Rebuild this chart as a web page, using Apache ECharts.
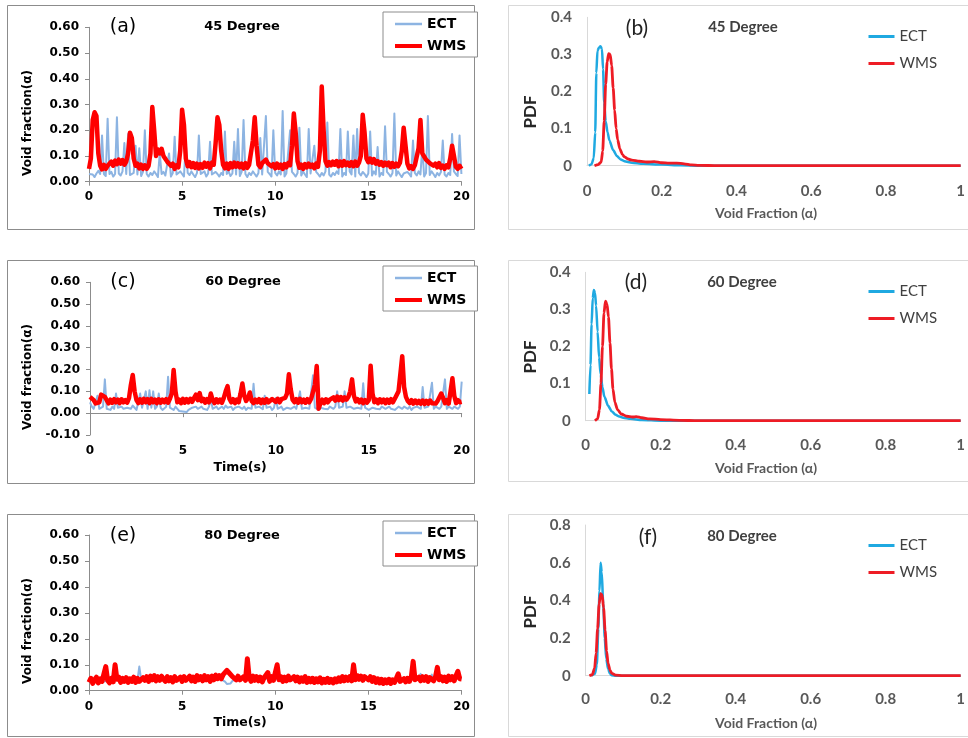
<!DOCTYPE html>
<html><head><meta charset="utf-8">
<script src="https://cdn.jsdelivr.net/npm/echarts@6/dist/echarts.min.js"></script>
<style>html,body{margin:0;padding:0;background:#fff}#c{width:968px;height:738px}</style>
</head><body><div id="c"></div>
<script>
// ---------- DATA ----------
const timeStep = 0.1; // s, sampling of the time-series
const timeTicks = [0, 5, 10, 15, 20];
const pdfTicks = [0, 0.2, 0.4, 0.6, 0.8, 1];

// (a) 45 degree
const ectA = [
0.03,0.035,0.028,0.018,0.032,0.042,0.03,0.18,0.03,0.022,
0.245,0.03,0.038,0.02,0.03,0.25,0.032,0.024,0.04,0.15,
0.03,0.185,0.026,0.02,0.034,0.14,0.028,0.13,0.022,0.038,
0.2,0.03,0.02,0.034,0.026,0.04,0.03,0.018,0.11,0.03,
0.038,0.024,0.03,0.11,0.02,0.034,0.175,0.028,0.022,0.04,
0.03,0.02,0.15,0.034,0.026,0.04,0.028,0.018,0.034,0.18,
0.03,0.024,0.04,0.02,0.032,0.155,0.028,0.022,0.038,0.03,
0.02,0.034,0.026,0.195,0.03,0.04,0.022,0.032,0.155,0.028,
0.205,0.022,0.038,0.24,0.03,0.018,0.034,0.026,0.04,0.03,
0.02,0.034,0.17,0.028,0.024,0.255,0.038,0.03,0.02,0.2,
0.034,0.024,0.04,0.028,0.275,0.02,0.032,0.026,0.2,0.038,
0.03,0.02,0.034,0.21,0.024,0.04,0.028,0.018,0.205,0.032,
0.026,0.14,0.038,0.03,0.02,0.034,0.024,0.04,0.23,0.028,
0.02,0.034,0.026,0.04,0.03,0.205,0.02,0.034,0.026,0.195,
0.04,0.028,0.18,0.02,0.205,0.034,0.024,0.038,0.03,0.018,
0.032,0.195,0.024,0.04,0.028,0.135,0.02,0.034,0.026,0.215,
0.038,0.03,0.02,0.034,0.265,0.024,0.04,0.028,0.018,0.032,
0.026,0.038,0.03,0.02,0.16,0.034,0.024,0.04,0.028,0.135,
0.02,0.034,0.255,0.026,0.04,0.03,0.018,0.034,0.024,0.038,
0.16,0.028,0.02,0.034,0.026,0.185,0.04,0.03,0.022,0.18,
0.03];
const wmsA = [
0.05,0.09,0.24,0.27,0.255,0.11,0.062,0.048,0.066,0.05,
0.062,0.056,0.078,0.062,0.082,0.068,0.086,0.07,0.084,0.066,
0.078,0.11,0.19,0.17,0.09,0.062,0.07,0.052,0.066,0.05,
0.064,0.05,0.062,0.11,0.29,0.2,0.1,0.125,0.11,0.128,
0.1,0.095,0.078,0.082,0.062,0.07,0.05,0.064,0.056,0.12,
0.28,0.22,0.09,0.06,0.076,0.056,0.072,0.054,0.07,0.052,
0.068,0.054,0.074,0.058,0.072,0.052,0.074,0.066,0.15,0.25,
0.22,0.12,0.066,0.052,0.07,0.05,0.072,0.056,0.074,0.058,
0.072,0.056,0.07,0.052,0.072,0.054,0.066,0.062,0.16,0.25,
0.14,0.066,0.056,0.072,0.066,0.086,0.072,0.078,0.06,0.068,
0.052,0.07,0.054,0.066,0.05,0.068,0.056,0.072,0.064,0.14,
0.265,0.19,0.08,0.054,0.066,0.05,0.068,0.056,0.07,0.058,
0.066,0.052,0.07,0.058,0.12,0.37,0.2,0.08,0.062,0.076,
0.064,0.078,0.066,0.08,0.06,0.078,0.062,0.08,0.064,0.074,
0.062,0.076,0.06,0.078,0.062,0.074,0.1,0.26,0.19,0.09,
0.076,0.09,0.074,0.088,0.07,0.08,0.066,0.076,0.062,0.074,
0.064,0.074,0.056,0.072,0.058,0.07,0.06,0.074,0.12,0.21,
0.14,0.07,0.052,0.06,0.05,0.064,0.058,0.13,0.24,0.11,
0.098,0.086,0.09,0.072,0.076,0.062,0.07,0.056,0.072,0.054,
0.062,0.05,0.064,0.056,0.09,0.14,0.1,0.058,0.05,0.062,
0.05];

// (c) 60 degree
const ectC = [
0.05,0.03,0.02,0.025,0.08,0.02,0.015,0.03,0.155,0.02,
0.025,0.015,0.03,0.02,0.09,0.025,0.018,0.03,0.02,0.015,
0.025,0.03,0.02,0.035,0.025,0.015,0.02,0.09,0.025,0.03,
0.1,0.02,0.105,0.025,0.1,0.02,0.03,0.09,0.025,0.015,
0.02,0.03,0.167,0.025,0.02,0.015,0.03,0.02,0.01,0.005,
0.008,0.012,0.005,0.015,0.02,0.025,0.018,0.03,0.02,0.025,
0.03,0.02,0.025,0.015,0.03,0.065,0.02,0.025,0.03,0.018,
0.025,0.03,0.02,0.035,0.025,0.02,0.03,0.015,0.025,0.02,
0.03,0.025,0.02,0.03,0.015,0.025,0.03,0.02,0.135,0.025,
0.02,0.03,0.025,0.018,0.08,0.025,0.02,0.03,0.015,0.025,
0.07,0.02,0.025,0.03,0.015,0.02,0.025,0.03,0.02,0.025,
0.03,0.02,0.025,0.1,0.02,0.015,0.025,0.03,0.02,0.025,
0.174,0.025,0.02,0.015,0.025,0.03,0.02,0.025,0.018,0.03,
0.025,0.02,0.03,0.1,0.025,0.02,0.03,0.1,0.025,0.02,
0.03,0.025,0.02,0.015,0.025,0.03,0.02,0.137,0.025,0.02,
0.015,0.02,0.025,0.03,0.02,0.025,0.018,0.03,0.025,0.02,
0.025,0.03,0.02,0.025,0.015,0.02,0.03,0.025,0.02,0.03,
0.025,0.02,0.03,0.015,0.025,0.02,0.03,0.025,0.02,0.12,
0.025,0.02,0.03,0.025,0.14,0.02,0.03,0.025,0.02,0.03,
0.025,0.155,0.02,0.03,0.025,0.02,0.03,0.025,0.02,0.03,
0.145];
const wmsC = [
0.075,0.07,0.06,0.045,0.042,0.05,0.085,0.09,0.075,0.06,
0.045,0.062,0.048,0.064,0.05,0.062,0.046,0.064,0.05,0.06,
0.048,0.07,0.13,0.175,0.1,0.06,0.046,0.064,0.048,0.066,
0.05,0.064,0.046,0.066,0.05,0.062,0.046,0.064,0.048,0.062,
0.05,0.064,0.048,0.066,0.09,0.198,0.1,0.05,0.062,0.046,
0.066,0.048,0.064,0.05,0.066,0.052,0.07,0.085,0.06,0.092,
0.055,0.066,0.048,0.064,0.05,0.09,0.06,0.046,0.064,0.05,
0.062,0.048,0.07,0.1,0.124,0.066,0.05,0.064,0.046,0.062,
0.05,0.09,0.136,0.08,0.056,0.07,0.095,0.056,0.046,0.062,
0.05,0.064,0.046,0.062,0.048,0.064,0.05,0.046,0.065,0.07,
0.052,0.066,0.05,0.064,0.056,0.07,0.09,0.178,0.11,0.062,
0.05,0.064,0.048,0.066,0.05,0.062,0.048,0.064,0.05,0.066,
0.064,0.13,0.216,0.02,0.045,0.062,0.046,0.064,0.05,0.062,
0.056,0.072,0.058,0.076,0.06,0.074,0.058,0.072,0.062,0.074,
0.1,0.155,0.08,0.054,0.064,0.05,0.062,0.046,0.06,0.048,
0.06,0.218,0.09,0.05,0.062,0.046,0.064,0.05,0.062,0.046,
0.062,0.048,0.064,0.05,0.066,0.07,0.1,0.18,0.261,0.12,
0.075,0.056,0.046,0.06,0.044,0.058,0.045,0.056,0.044,0.058,
0.042,0.056,0.044,0.058,0.046,0.054,0.044,0.056,0.05,0.09,
0.07,0.046,0.06,0.044,0.1,0.16,0.08,0.046,0.06,0.05,
0.052];

// (e) 80 degree
const ectE = [
0.04,0.035,0.045,0.038,0.042,0.036,0.044,0.04,0.035,0.042,
0.038,0.044,0.036,0.042,0.04,0.035,0.045,0.038,0.042,0.036,
0.044,0.04,0.036,0.042,0.038,0.045,0.04,0.093,0.042,0.038,
0.045,0.04,0.046,0.042,0.048,0.044,0.05,0.045,0.042,0.048,
0.044,0.04,0.046,0.042,0.048,0.04,0.045,0.042,0.038,0.046,
0.042,0.046,0.04,0.044,0.048,0.042,0.046,0.04,0.048,0.044,
0.046,0.042,0.048,0.044,0.05,0.042,0.046,0.044,0.05,0.046,
0.048,0.044,0.04,0.035,0.026,0.022,0.028,0.038,0.042,0.045,
0.046,0.042,0.04,0.045,0.042,0.05,0.044,0.04,0.046,0.042,
0.045,0.04,0.046,0.042,0.044,0.048,0.042,0.04,0.046,0.042,
0.04,0.044,0.042,0.046,0.04,0.044,0.042,0.046,0.044,0.04,
0.044,0.04,0.046,0.042,0.044,0.04,0.044,0.038,0.042,0.04,
0.042,0.038,0.04,0.042,0.044,0.038,0.042,0.04,0.044,0.038,
0.042,0.038,0.044,0.04,0.045,0.042,0.046,0.044,0.046,0.044,
0.046,0.044,0.048,0.045,0.05,0.046,0.05,0.045,0.048,0.05,
0.046,0.048,0.044,0.045,0.04,0.042,0.038,0.04,0.036,0.04,
0.038,0.04,0.036,0.04,0.038,0.042,0.05,0.042,0.04,0.042,
0.04,0.044,0.042,0.046,0.05,0.045,0.042,0.046,0.065,0.05,
0.046,0.05,0.044,0.048,0.062,0.046,0.05,0.055,0.048,0.05,
0.046,0.05,0.044,0.05,0.046,0.05,0.046,0.052,0.06,0.05,
0.046];
const wmsE = [
0.032,0.048,0.028,0.042,0.052,0.03,0.046,0.036,0.03,0.093,
0.04,0.03,0.048,0.034,0.1,0.044,0.052,0.032,0.048,0.036,
0.05,0.032,0.046,0.036,0.052,0.032,0.048,0.036,0.032,0.05,
0.04,0.054,0.036,0.056,0.042,0.058,0.038,0.054,0.04,0.056,
0.044,0.036,0.054,0.038,0.05,0.034,0.054,0.04,0.034,0.052,
0.036,0.054,0.04,0.034,0.056,0.038,0.052,0.036,0.058,0.042,
0.054,0.038,0.058,0.042,0.054,0.036,0.056,0.042,0.06,0.046,
0.058,0.046,0.062,0.066,0.078,0.07,0.064,0.054,0.052,0.042,
0.056,0.042,0.036,0.054,0.04,0.123,0.05,0.036,0.056,0.04,
0.054,0.038,0.052,0.034,0.05,0.056,0.07,0.036,0.054,0.04,
0.034,0.1,0.042,0.054,0.036,0.052,0.038,0.056,0.042,0.036,
0.054,0.038,0.052,0.034,0.05,0.036,0.054,0.032,0.048,0.034,
0.048,0.032,0.046,0.034,0.05,0.03,0.044,0.032,0.048,0.032,
0.044,0.03,0.046,0.034,0.05,0.036,0.054,0.038,0.052,0.04,
0.054,0.038,0.1,0.042,0.058,0.044,0.056,0.04,0.054,0.058,
0.042,0.054,0.036,0.05,0.032,0.046,0.03,0.044,0.028,0.042,
0.03,0.044,0.028,0.042,0.032,0.048,0.065,0.036,0.032,0.046,
0.034,0.048,0.036,0.052,0.113,0.042,0.036,0.052,0.038,0.054,
0.04,0.054,0.036,0.05,0.056,0.038,0.054,0.09,0.042,0.054,
0.038,0.052,0.036,0.056,0.042,0.054,0.038,0.058,0.075,0.046,
0.045];

// PDFs [void fraction, pdf]
const pdfEctB = [[0.005,0],[0.012,0.004],[0.018,0.02],[0.022,0.09],[0.025,0.25],[0.028,0.31],[0.032,0.318],[0.036,0.322],[0.04,0.315],[0.043,0.26],[0.046,0.17],[0.05,0.12],[0.055,0.09],[0.06,0.068],[0.07,0.042],[0.08,0.026],[0.09,0.017],[0.1,0.012],[0.12,0.008],[0.15,0.005],[0.2,0.003],[0.25,0.001],[0.3,0],[1,0]];
const pdfWmsB = [[0.02,0],[0.03,0.003],[0.038,0.01],[0.042,0.04],[0.046,0.12],[0.05,0.22],[0.054,0.28],[0.058,0.302],[0.062,0.3],[0.066,0.27],[0.07,0.21],[0.074,0.15],[0.078,0.1],[0.082,0.07],[0.088,0.045],[0.095,0.03],[0.1,0.024],[0.11,0.018],[0.12,0.015],[0.14,0.012],[0.16,0.01],[0.18,0.011],[0.2,0.008],[0.22,0.007],[0.24,0.007],[0.26,0.005],[0.28,0.002],[0.3,0.001],[0.35,0],[1,0]];
const pdfEctD = [[0.01,0.072],[0.013,0.15],[0.016,0.26],[0.019,0.33],[0.022,0.352],[0.025,0.345],[0.028,0.31],[0.032,0.24],[0.036,0.17],[0.04,0.125],[0.045,0.09],[0.05,0.065],[0.06,0.04],[0.07,0.025],[0.08,0.016],[0.09,0.011],[0.1,0.008],[0.12,0.005],[0.15,0.002],[0.2,0],[1,0]];
const pdfWmsD = [[0.025,0],[0.032,0.005],[0.037,0.03],[0.041,0.1],[0.045,0.2],[0.049,0.29],[0.053,0.322],[0.057,0.315],[0.061,0.28],[0.065,0.21],[0.069,0.14],[0.073,0.085],[0.078,0.05],[0.085,0.03],[0.095,0.018],[0.11,0.012],[0.125,0.01],[0.135,0.011],[0.15,0.008],[0.17,0.005],[0.2,0.003],[0.25,0.001],[0.3,0],[1,0]];
const pdfEctF = [[0.015,0],[0.025,0.01],[0.03,0.06],[0.034,0.25],[0.037,0.45],[0.04,0.6],[0.043,0.55],[0.047,0.38],[0.051,0.2],[0.055,0.09],[0.06,0.035],[0.065,0.01],[0.07,0.002],[0.08,0],[1,0]];
const pdfWmsF = [[0.01,0],[0.018,0.005],[0.024,0.04],[0.028,0.12],[0.032,0.25],[0.036,0.38],[0.04,0.435],[0.044,0.43],[0.048,0.36],[0.052,0.24],[0.056,0.13],[0.06,0.065],[0.065,0.03],[0.07,0.012],[0.08,0.003],[0.1,0],[1,0]];

// ---------- STYLE ----------
const C_ECT_L = '#8db4e2', C_WMS_L = '#ff0000';
const C_ECT_R = '#1fa9e1', C_WMS_R = '#ee1c25';
const LFONT = 'DejaVu Sans', RFONT = 'Lato';
const GRAY = '#8c8c8c', LGRAY = '#d9d9d9';
const NOSYM = {color:'rgba(0,0,0,0)', borderColor:'rgba(0,0,0,0)', borderWidth:0, opacity:0};

function toPairs(vals){ return vals.map((v,i)=>[+(i*timeStep).toFixed(1), v]); }

const grids = [
  {left:89, top:27.3, width:372.4, height:154.4},   // a
  {left:587, top:17.3, width:381, height:148.4},    // b
  {left:90, top:282.3, width:371.7, height:152.7},  // c
  {left:585.6, top:272.3, width:381, height:148.4}, // d
  {left:89, top:535, width:372.6, height:155.7},    // e
  {left:585.6, top:525, width:381, height:150.7}    // f
];

function leftX(i, margin){
  return {gridIndex:i, type:'value', min:0, max:20, interval:5,
    axisLine:{show:true, onZero:true, lineStyle:{color:GRAY, width:1}},
    axisTick:{show:true, length:4, lineStyle:{color:GRAY}},
    axisLabel:{margin, fontFamily:LFONT, fontWeight:'bold', fontSize:12, color:'#000'},
    splitLine:{show:false}};
}
function leftY(i, min){
  return {gridIndex:i, type:'value', min, max:0.6, interval:0.1,
    axisLine:{show:true, lineStyle:{color:GRAY, width:1}},
    axisTick:{show:true, length:4, lineStyle:{color:GRAY}},
    axisLabel:{margin:10, fontFamily:LFONT, fontWeight:'bold', fontSize:12, color:'#000',
      formatter:v=>v.toFixed(2)},
    splitLine:{show:false}};
}
function rightX(i, margin){
  return {gridIndex:i, type:'value', min:0, max:1, interval:0.2,
    axisLine:{show:true, lineStyle:{color:LGRAY, width:1}},
    axisTick:{show:false},
    axisLabel:{margin, fontFamily:RFONT, fontWeight:'bold', fontSize:15, color:'#595959', showMaxLabel:true},
    splitLine:{show:false}};
}
function rightY(i, max, interval){
  return {gridIndex:i, type:'value', min:0, max, interval,
    axisLine:{show:true, lineStyle:{color:LGRAY, width:1}},
    axisTick:{show:false},
    axisLabel:{margin:15, fontFamily:RFONT, fontWeight:'bold', fontSize:15, color:'#595959'},
    splitLine:{show:false}};
}
function ts(name, vals, i, color, width){
  return {type:'line', name, xAxisIndex:i, yAxisIndex:i, data:toPairs(vals), symbol:'none',
    lineStyle:{color, width, join:'round'}, itemStyle:{color}, silent:true};
}
function pdf(name, data, i, color, width){
  return {type:'line', name, xAxisIndex:i, yAxisIndex:i, data, symbol:'none', smooth:0.25, smoothMonotone:'x',
    lineStyle:{color, width}, itemStyle:{color}, silent:true};
}
function leftLegend(top){
  return {orient:'vertical', left:383, top, padding:[5,11,4,10], itemGap:8, itemWidth:27, itemHeight:14,
    borderColor:GRAY, borderWidth:1, selectedMode:false, backgroundColor:'#fff',
    textStyle:{fontFamily:LFONT, fontWeight:'bold', fontSize:14, color:'#000', lineHeight:14},
    data:[{name:'ECT', lineStyle:{color:C_ECT_L, width:2.5}, itemStyle:NOSYM},
          {name:'WMS', lineStyle:{color:C_WMS_L, width:4}, itemStyle:NOSYM}]};
}
function rightLegend(top){
  return {orient:'vertical', left:867, top, padding:0, itemGap:12, itemWidth:26, itemHeight:14,
    selectedMode:false,
    textStyle:{fontFamily:RFONT, fontSize:15, color:'#404040', lineHeight:14},
    data:[{name:'ECT', lineStyle:{color:C_ECT_R, width:3}, itemStyle:NOSYM},
          {name:'WMS', lineStyle:{color:C_WMS_R, width:3}, itemStyle:NOSYM}]};
}
function txt(text, x, y, font, fill, rot){
  const e = {type:'text', x, y, silent:true, z:10,
    style:{text, font, fill:fill||'#000', align:'center', verticalAlign:'middle'}};
  if (rot) e.rotation = rot;
  return e;
}
function box(x, y, w, h, stroke){
  return {type:'rect', silent:true, z:-10, shape:{x, y, width:w, height:h},
    style:{fill:null, stroke, lineWidth:1}};
}
const R90 = Math.PI/2;
const LB = 'bold 12px "DejaVu Sans"';
const graphics = [
  box(7.5,5.5,467,224,GRAY), box(7.5,260.5,467,223,GRAY), box(7.5,514.5,467,222,GRAY),
  box(508.5,5.5,480,224,LGRAY), box(508.5,260.5,480,221,LGRAY), box(508.5,514.5,480,222,LGRAY),
  txt('(a)',123,27,'19px "DejaVu Sans"'), txt('45 Degree',242,27,'bold 13px "DejaVu Sans"'),
  txt('(c)',123,282,'19px "DejaVu Sans"'), txt('60 Degree',243,282,'bold 13px "DejaVu Sans"'),
  txt('(e)',123,536,'19px "DejaVu Sans"'), txt('80 Degree',242,536,'bold 13px "DejaVu Sans"'),
  txt('Void fraction(α)',28,123,LB,'#000',R90),
  txt('Void fraction(α)',28,377,LB,'#000',R90),
  txt('Void fraction(α)',28,631,LB,'#000',R90),
  txt('Time(s)',240,213,'bold 12.5px "DejaVu Sans"'),
  txt('Time(s)',240,468,'bold 12.5px "DejaVu Sans"'),
  txt('Time(s)',240,723,'bold 12.5px "DejaVu Sans"'),
  txt('(b)',637,28,'21px Lato','#222'), txt('45 Degree',743,27,'bold 15px Lato','#404040'),
  txt('(d)',636,282,'21px Lato','#222'), txt('60 Degree',742,282,'bold 15px Lato','#404040'),
  txt('(f)',648,537,'21px Lato','#222'), txt('80 Degree',742,536,'bold 15px Lato','#404040'),
  txt('PDF',531,112,'bold 17px Lato','#262626',R90),
  txt('PDF',531,357,'bold 17px Lato','#262626',R90),
  txt('PDF',531,612,'bold 17px Lato','#262626',R90),
  txt('Void Fraction (α)',766,213,'bold 14px Lato','#595959'),
  txt('Void Fraction (α)',766,468,'bold 14px Lato','#595959'),
  txt('Void Fraction (α)',766,723,'bold 14px Lato','#595959')
];

const option = {
  backgroundColor:'#fff',
  animation:false,
  grid: grids,
  xAxis: [leftX(0,9), rightX(1,18), leftX(2,10), rightX(3,17), leftX(4,10), rightX(5,16)],
  yAxis: [leftY(0,0), rightY(1,0.4,0.1), leftY(2,-0.1), rightY(3,0.4,0.1), leftY(4,0), rightY(5,0.8,0.2)],
  legend: [leftLegend(12), rightLegend(29), leftLegend(266), rightLegend(284), leftLegend(521), rightLegend(538)],
  series: [
    ts('ECT', ectA, 0, C_ECT_L, 2), ts('WMS', wmsA, 0, C_WMS_L, 4.5),
    pdf('ECT', pdfEctB, 1, C_ECT_R, 2.5), pdf('WMS', pdfWmsB, 1, C_WMS_R, 2.8),
    ts('ECT', ectC, 2, C_ECT_L, 2), ts('WMS', wmsC, 2, C_WMS_L, 4.5),
    pdf('ECT', pdfEctD, 3, C_ECT_R, 2.5), pdf('WMS', pdfWmsD, 3, C_WMS_R, 2.8),
    ts('ECT', ectE, 4, C_ECT_L, 2), ts('WMS', wmsE, 4, C_WMS_L, 5),
    pdf('ECT', pdfEctF, 5, C_ECT_R, 2.5), pdf('WMS', pdfWmsF, 5, C_WMS_R, 2.8)
  ],
  graphic: {elements: graphics}
};
const chart = echarts.init(document.getElementById('c'), null, {renderer:'canvas'});
chart.setOption(option);
</script></body></html>
